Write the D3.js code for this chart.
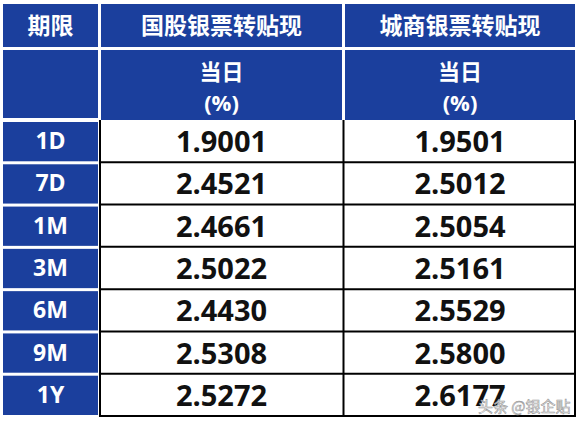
<!DOCTYPE html>
<html><head><meta charset="utf-8">
<script src="https://cdn.jsdelivr.net/npm/d3@7"></script>
<style>body{margin:0;background:#fff}</style>
</head><body><svg id="c" width="581" height="424"></svg>
<script>
const terms = ["1D","7D","1M","3M","6M","9M","1Y"];
const guogu = ["1.9001","2.4521","2.4661","2.5022","2.4430","2.5308","2.5272"];
const chengshang = ["1.9501","2.5012","2.5054","2.5161","2.5529","2.5800","2.6177"];
const headers = ["期限","国股银票转贴现","城商银票转贴现"];

const blue = "#1b3f9d";
const svg = d3.select("#c");
const cols = [[3,98],[101,342],[345,575]];
const y = d3.scaleBand().domain(terms).range([120,416]).paddingInner(0);
const cjk = "'Noto Sans CJK SC', sans-serif";
const num = "'Open Sans', 'Noto Sans', sans-serif";

// header row 1
cols.forEach((c,i) => {
  svg.append("rect").attr("x",c[0]).attr("y",4).attr("width",c[1]-c[0]).attr("height",43).attr("fill",blue);
  svg.append("text").attr("x",(c[0]+c[1])/2).attr("y",34).attr("text-anchor","middle")
    .attr("fill","#fff").attr("font-family",cjk).attr("font-weight","bold").attr("font-size",23).text(headers[i]);
  svg.append("rect").attr("x",c[0]).attr("y",50).attr("width",c[1]-c[0]).attr("height",i==0?68:70).attr("fill",blue);
  if (i>0) {
    svg.append("text").attr("x",(c[0]+c[1])/2).attr("y",80).attr("text-anchor","middle")
      .attr("fill","#fff").attr("font-family",cjk).attr("font-weight","bold").attr("font-size",22).text("当日");
    svg.append("text").attr("x",(c[0]+c[1])/2).attr("y",111).attr("text-anchor","middle")
      .attr("fill","#fff").attr("font-family",num).attr("font-weight","bold").attr("font-size",22).text("(%)");
  }
});

// data rows
terms.forEach((t,r) => {
  const y0 = y(t), h = y.bandwidth();
  svg.append("rect").attr("x",cols[0][0]).attr("y",y0+2).attr("width",cols[0][1]-cols[0][0]).attr("height",h-3).attr("fill",blue);
  svg.append("text").attr("x",(cols[0][0]+cols[0][1])/2).attr("y",y0+h/2+8).attr("text-anchor","middle")
    .attr("fill","#fff").attr("font-family",num).attr("font-weight","bold").attr("font-size",23).text(t);
  [guogu[r],chengshang[r]].forEach((v,k) => {
    const c = cols[k+1];
    svg.append("text").attr("x",(c[0]+c[1])/2).attr("y",y0+h/2+11).attr("text-anchor","middle")
      .attr("fill","#111").attr("font-family",num).attr("font-weight","bold").attr("font-size",29).text(v);
  });
  svg.append("line").attr("x1",100).attr("x2",576).attr("y1",y0+h).attr("y2",y0+h).attr("stroke","#000").attr("stroke-width",2);
});
[100,343.5,575].forEach(x => svg.append("line").attr("x1",x).attr("x2",x).attr("y1",120).attr("y2",417).attr("stroke","#000").attr("stroke-width",2));

svg.append("text").attr("x",478).attr("y",412).attr("fill","#fff").attr("fill-opacity",0.85)
  .attr("stroke","#999").attr("stroke-width",0.6).attr("font-family",cjk).attr("font-size",15).text("头条 @银企贴");
</script></body></html>
